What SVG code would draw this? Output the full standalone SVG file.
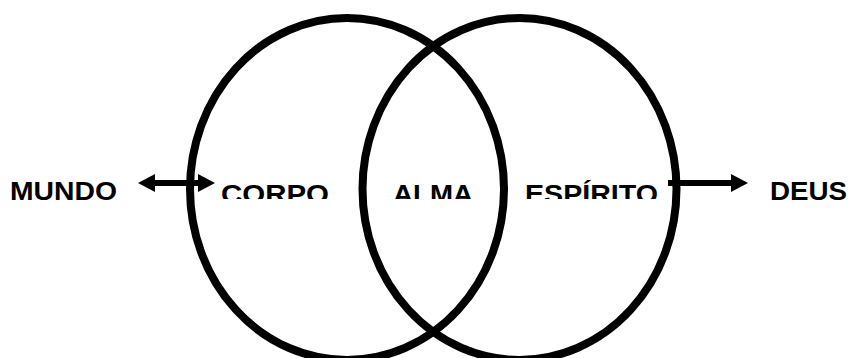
<svg xmlns="http://www.w3.org/2000/svg" width="850" height="358" viewBox="0 0 850 358">
  <style>
    .ring { fill: none; stroke: #000; stroke-width: 8; }
    .lbl { font-family: "Liberation Sans", Arial, sans-serif; font-weight: bold; font-size: 25.5px; fill: #000; }
    .arr { stroke: #000; stroke-width: 6; fill: none; }
  </style>
  <defs>
    <marker id="head" markerUnits="userSpaceOnUse" markerWidth="17" markerHeight="18" refX="7" refY="9" orient="auto-start-reverse">
      <path d="M0,0 L17,9 L0,18 Z" fill="#000"/>
    </marker>
    <clipPath id="inner">
      <rect x="0" y="0" width="850" height="199"/>
    </clipPath>
  </defs>
  <rect width="850" height="358" fill="#fff"/>
  <g id="corpo">
    <ellipse class="ring" cx="347" cy="189" rx="157" ry="171"/>
    <text class="lbl" x="221" y="203" textLength="108" lengthAdjust="spacingAndGlyphs" clip-path="url(#inner)">CORPO</text>
  </g>
  <g id="espirito">
    <ellipse class="ring" cx="519.5" cy="189" rx="157" ry="171"/>
    <text class="lbl" x="525" y="202.5" textLength="133" lengthAdjust="spacingAndGlyphs" clip-path="url(#inner)">ESPÍRITO</text>
  </g>
  <g id="alma">
    <text class="lbl" x="393" y="202.5" textLength="80" lengthAdjust="spacingAndGlyphs" clip-path="url(#inner)">ALMA</text>
  </g>
  <g id="mundo">
    <text class="lbl" x="10" y="199.5" textLength="107" lengthAdjust="spacingAndGlyphs">MUNDO</text>
  </g>
  <g id="deus">
    <text class="lbl" x="770" y="199.5" textLength="77" lengthAdjust="spacingAndGlyphs">DEUS</text>
  </g>
  <g id="connectors">
    <line class="arr" x1="148" y1="183" x2="205" y2="183" marker-start="url(#head)" marker-end="url(#head)"/>
    <line class="arr" x1="668" y1="183" x2="738" y2="183" marker-end="url(#head)"/>
  </g>
</svg>
